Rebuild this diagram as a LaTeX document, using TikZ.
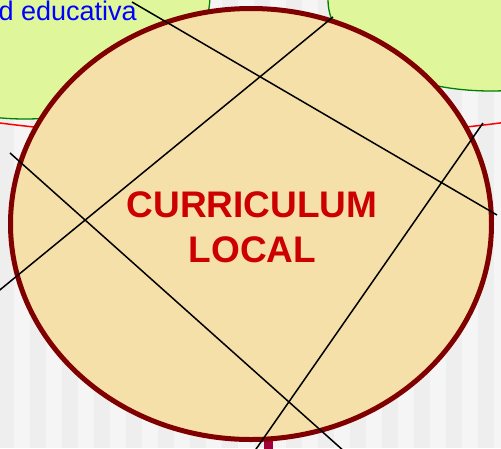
\documentclass[tikz,border=0pt]{standalone}
\usepackage{fontspec}
\setmainfont{Liberation Sans}
\definecolor{bgdark}{HTML}{EEEEEE}
\definecolor{bglight}{HTML}{F5F5F5}
\definecolor{greenfill}{HTML}{DFF79A}
\definecolor{greenedge}{HTML}{008000}
\definecolor{bigfill}{HTML}{F5E0AA}
\definecolor{bigedge}{HTML}{800000}
\definecolor{titlered}{HTML}{CC0000}
\definecolor{crimsonc}{HTML}{A0003C}
\begin{document}
\begin{tikzpicture}[x=1pt,y=-1pt,
  greenell/.style={draw=greenedge, line width=1.3pt, fill=greenfill},
  redarc/.style={draw=red, line width=1.5pt},
  bigell/.style={draw=bigedge, line width=5pt, fill=bigfill},
  blkline/.style={draw=black, line width=1.5pt},
  titletext/.style={text=titlered, font=\fontsize{37}{45}\selectfont\bfseries, inner sep=0pt, anchor=base},
  edutext/.style={text=blue, font=\fontsize{27}{32}\selectfont, inner sep=0pt, anchor=base west}]
\useasboundingbox (0,0) rectangle (501,448);
\clip (0,0) rectangle (501,448);
% background stripes
\fill[bgdark] (0,0) rectangle (501,448);
\foreach \k in {0,...,15} \fill[bglight] ({14+32*\k},0) rectangle ({30+32*\k},448);
% red ellipse
\draw[redarc] (250,0) ellipse [x radius=551, y radius=138];
% green ellipses
\draw[greenell] (25,-5) ellipse [x radius=185, y radius=124];
\draw[greenell] (491,0) ellipse [x radius=163, y radius=91];
\node[edutext] (edu) at (-1.5,20.5) {d educativa};
% crimson stub at bottom
\coordinate (cra) at (268,430);
\coordinate (crb) at (268,460);
\draw[draw=crimsonc, line width=9pt] (cra) -- (crb);
% big ellipse
\draw[bigell] (251,224) ellipse [x radius=240.5, y radius=215.5];
\node[titletext] (t1) at (252,217) {CURRICULUM};
\node[titletext] (t2) at (252.5,262) {LOCAL};
% black lines
\coordinate (a1) at (132,2);
\coordinate (a2) at (497,215);
\coordinate (b1) at (333,17);
\coordinate (b2) at (-10,298);
\coordinate (c1) at (10,153);
\coordinate (c2) at (345,452);
\coordinate (d1) at (483,123);
\coordinate (d2) at (254,452);
\draw[blkline] (a1) -- (a2);
\draw[blkline] (b1) -- (b2);
\draw[blkline] (c1) -- (c2);
\draw[blkline] (d1) -- (d2);
\end{tikzpicture}
\end{document}
